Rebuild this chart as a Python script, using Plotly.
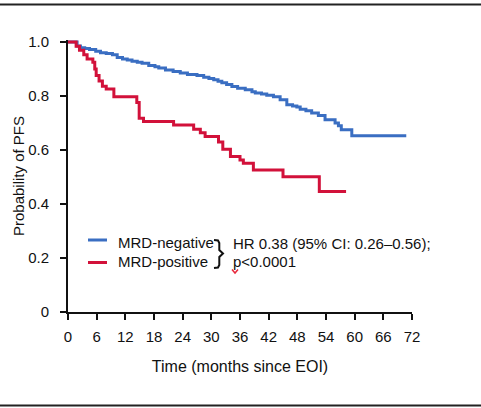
import plotly.graph_objects as go

# ---- data ----
neg_t = [0, 1.9, 2.6, 3.5, 4.5, 5.8, 6.8, 8.0, 9.3, 10.3, 11.4, 12.4, 13.4, 14.5, 15.5,
         16.9, 18.2, 19.0, 20.4, 22.0, 23.5, 25.0, 27.0, 28.4, 29.5, 30.5, 31.4, 32.2,
         33.2, 34.3, 35.5, 37.1, 38.5, 39.2, 40.5, 41.6, 43.0, 44.4, 45.8, 47.0, 47.9,
         48.6, 49.8, 51.0, 52.4, 53.8, 55.9, 56.6, 57.2, 59.4, 70.8]
neg_s = [1.0, 0.985, 0.979, 0.976, 0.972, 0.966, 0.960, 0.957, 0.953, 0.943, 0.937,
         0.933, 0.929, 0.925, 0.921, 0.913, 0.908, 0.904, 0.896, 0.891, 0.885, 0.880,
         0.876, 0.869, 0.865, 0.860, 0.855, 0.849, 0.843, 0.835, 0.829, 0.823, 0.816,
         0.811, 0.807, 0.803, 0.797, 0.786, 0.768, 0.763, 0.759, 0.751, 0.745, 0.737,
         0.728, 0.712, 0.700, 0.690, 0.675, 0.653, 0.653]

pos_t = [0, 1.7, 2.4, 3.3, 4.0, 5.2, 5.6, 5.9, 6.5, 7.2, 8.0, 9.6, 14.4, 14.9, 15.8,
         22.1, 26.3, 27.7, 28.7, 31.5, 32.4, 34.0, 36.0, 36.7, 38.8, 45.0, 52.6, 58.2]
pos_s = [1.0, 0.984, 0.969, 0.953, 0.937, 0.925, 0.900, 0.876, 0.856, 0.836, 0.826,
         0.797, 0.776, 0.718, 0.706, 0.693, 0.677, 0.664, 0.650, 0.630, 0.603, 0.576,
         0.563, 0.551, 0.526, 0.501, 0.446, 0.446]

series_names = ["MRD-negative", "MRD-positive"]
series_colors = ["#3a6ec2", "#d2113a"]
x_ticks = list(range(0, 73, 6))
y_ticks = [0, 0.2, 0.4, 0.6, 0.8, 1.0]
y_ticktext = ["0", "0.2", "0.4", "0.6", "0.8", "1.0"]
hr_text = "HR 0.38 (95% CI: 0.26–0.56);"
p_text = "p<0.0001"

FONT = "Arial, Liberation Sans, sans-serif"

fig = go.Figure()
for t, s, name, col in [(neg_t, neg_s, series_names[0], series_colors[0]),
                        (pos_t, pos_s, series_names[1], series_colors[1])]:
    fig.add_trace(go.Scatter(x=t, y=s, mode="lines", name=name,
                             line=dict(color=col, width=3, shape="hv"),
                             showlegend=False))

# pixel helpers for decorations (plot area: x 68..412, y 40..312)
L, R, T, B = 68, 412, 40, 312
YMAX = 1.0074
def px_x(px):
    return (px - L) / (R - L) * 72
def px_y(py):
    return (B - py) / (B - T) * YMAX
def pp_x(px):
    return (px - L) / (R - L)
def pp_y(py):
    return (B - py) / (B - T)

shapes = []
annotations = []
# legend lines
for col, py in [(series_colors[0], 240), (series_colors[1], 262.5)]:
    shapes.append(dict(type="line", xref="x", yref="y", x0=px_x(88), x1=px_x(107),
                       y0=px_y(py), y1=px_y(py), line=dict(color=col, width=3)))
for name, py in [(series_names[0], 242), (series_names[1], 261)]:
    annotations.append(dict(xref="x", yref="y", x=px_x(116), y=px_y(py), text=name,
                            showarrow=False, xanchor="left", yanchor="middle",
                            font=dict(family=FONT, size=15, color="#111")))
# brace
bp = [(214, 240), (218, 240.5), (219.3, 243), (219.3, 250), (223, 253.5), (219.3, 257),
      (219.3, 265), (218, 267.5), (214, 268)]
path = "M " + " L ".join(f"{px_x(a):.4f},{px_y(b):.4f}" for a, b in bp)
shapes.append(dict(type="path", xref="x", yref="y", path=path,
                   line=dict(color="#111", width=2)))
for txt, py in [(hr_text, 243), (p_text, 261)]:
    annotations.append(dict(xref="x", yref="y", x=px_x(231), y=px_y(py), text=txt,
                            showarrow=False, xanchor="left", yanchor="middle",
                            font=dict(family=FONT, size=15, color="#111")))
# small red squiggle under p
sq = [(232, 269.5), (235, 273), (238, 269.5)]
shapes.append(dict(type="path", xref="x", yref="y",
                   path="M " + " L ".join(f"{px_x(a):.4f},{px_y(b):.4f}" for a, b in sq),
                   line=dict(color="#e8283c", width=1.5)))
# frame rules top and bottom
for py in [4.5, 405.5]:
    shapes.append(dict(type="line", xref="paper", yref="paper", x0=pp_x(0), x1=pp_x(481),
                       y0=pp_y(py), y1=pp_y(py), line=dict(color="#222", width=2)))

fig.update_layout(
    width=481, height=408,
    margin=dict(l=L, r=481 - R, t=T, b=408 - B),
    paper_bgcolor="white", plot_bgcolor="white",
    font=dict(family=FONT, size=15, color="#111"),
    shapes=shapes, annotations=annotations,
    xaxis=dict(range=[0, 72], tickvals=x_ticks, showline=True, linecolor="#111",
               linewidth=2, ticks="outside", ticklen=6, tickwidth=2, tickcolor="#111",
               showgrid=False, zeroline=False, ticklabelstandoff=4,
               title=dict(text="Time (months since EOI)", standoff=17,
                          font=dict(family=FONT, size=16, color="#111"))),
    yaxis=dict(range=[0, YMAX], tickvals=y_ticks, ticktext=y_ticktext, showline=True,
               linecolor="#111", linewidth=2, ticks="outside", ticklen=6, tickwidth=2,
               tickcolor="#111", showgrid=False, zeroline=False, ticklabelstandoff=8,
               title=dict(text="Probability of PFS", standoff=0,
                          font=dict(family=FONT, size=15, color="#111"))),
)

fig.write_html("out.html", config={"displayModeBar": False},
               post_script="document.body.style.margin='0';document.body.style.overflow='hidden';")
